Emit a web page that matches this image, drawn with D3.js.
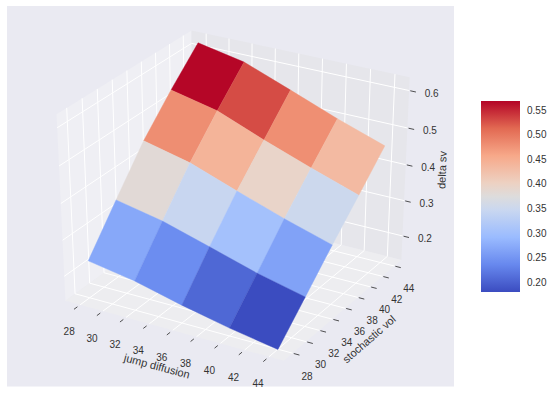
<!DOCTYPE html>
<html>
<head>
<meta charset="utf-8">
<script src="https://cdn.jsdelivr.net/npm/d3@7"></script>
<style>
  html, body { margin: 0; padding: 0; background: #fff; }
  svg { display: block; }
  text { font-family: "Liberation Sans", Arial, sans-serif; fill: #333; }
</style>
</head>
<body>
<div id="chart"></div>
<script>
// surface grid
const jumpDiffusion = [28, 32, 36, 40, 44];
const stochasticVol = [28, 32, 36, 40, 44];
// delta sv, one row per stochastic vol value
const deltaRow28 = [0.235, 0.213, 0.181, 0.153, 0.130];
const deltaRow32 = [0.347, 0.321, 0.283, 0.244, 0.213];
const deltaRow36 = [0.456, 0.426, 0.380, 0.336, 0.297];
const deltaRow40 = [0.544, 0.516, 0.466, 0.420, 0.377];
const deltaRow44 = [0.624, 0.599, 0.551, 0.502, 0.458];
const deltaSv = [deltaRow28, deltaRow32, deltaRow36, deltaRow40, deltaRow44];

const xTicks = [28, 30, 32, 34, 36, 38, 40, 42, 44];
const yTicks = [28, 30, 32, 34, 36, 38, 40, 42, 44];
const zTicks = [0.2, 0.3, 0.4, 0.5, 0.6];
const colorbarTicks = [0.20, 0.25, 0.30, 0.35, 0.40, 0.45, 0.50, 0.55];

const width = 553, height = 394;

const svg = d3.select("#chart")
  .append("svg")
  .attr("width", width)
  .attr("height", height);

svg.append("rect")
  .attr("x", 7).attr("y", 6)
  .attr("width", 447).attr("height", 380.5)
  .attr("fill", "#EAEAF2");

// data limits to the unit cube of the panes
const x = d3.scaleLinear().domain([26.7, 45.2]).range([0, 1]);
const y = d3.scaleLinear().domain([26.7, 45.2]).range([0, 1]);
const z = d3.scaleLinear().domain([0.131, 0.635]).range([0, 1]);

// projected view coordinates to pixels
const sx = d3.scaleLinear().domain([-0.1, 0.1]).range([236 - 252, 236 + 252]);
const sy = d3.scaleLinear().domain([-0.1, 0.1]).range([190 + 213, 190 - 213]);

// same camera as mplot3d with elev 30, azim -60, dist 10
const elev = 30 * Math.PI / 180, azim = -60 * Math.PI / 180, dist = 10;
const w = [Math.cos(elev) * Math.cos(azim), Math.cos(elev) * Math.sin(azim), Math.sin(elev)];
const u = [-Math.sin(azim), Math.cos(azim), 0];
const v = [w[1] * u[2] - w[2] * u[1], w[2] * u[0] - w[0] * u[2], w[0] * u[1] - w[1] * u[0]];
const dot = (a, b) => a[0] * b[0] + a[1] * b[1] + a[2] * b[2];

function depth(a, b, c) {
  return dist - dot(w, [a - 0.5, b - 0.5, c - 0.5]);
}

// a, b, c are cube coordinates
function project(a, b, c) {
  const p = [a - 0.5, b - 0.5, c - 0.5];
  const d = depth(a, b, c);
  return [sx(dot(u, p) / d), sy(dot(v, p) / d)];
}

const path = pts => "M" + pts.map(p => project(p[0], p[1], p[2]).join(",")).join("L") + "Z";

// panes
const panes = [
  { fill: "#EFEFF4", pts: [[0, 0, 0], [0, 1, 0], [0, 1, 1], [0, 0, 1]] },
  { fill: "#E6E6EB", pts: [[0, 1, 0], [1, 1, 0], [1, 1, 1], [0, 1, 1]] },
  { fill: "#EDEDF0", pts: [[0, 0, 0], [1, 0, 0], [1, 1, 0], [0, 1, 0]] }
];
svg.selectAll(".pane")
  .data(panes)
  .enter()
  .append("path")
  .attr("class", "pane")
  .attr("d", d => path(d.pts))
  .attr("fill", d => d.fill);

// grid lines
const gridLines = [];
xTicks.forEach(t => {
  gridLines.push([[x(t), 0, 0], [x(t), 1, 0], [x(t), 1, 1]]);
});
yTicks.forEach(t => {
  gridLines.push([[1, y(t), 0], [0, y(t), 0], [0, y(t), 1]]);
});
zTicks.forEach(t => {
  gridLines.push([[0, 0, z(t)], [0, 1, z(t)], [1, 1, z(t)]]);
});
svg.selectAll(".grid")
  .data(gridLines)
  .enter()
  .append("path")
  .attr("class", "grid")
  .attr("d", d => "M" + d.map(p => project(p[0], p[1], p[2]).join(",")).join("L"))
  .attr("fill", "none")
  .attr("stroke", "#fff")
  .attr("stroke-width", 1);

// tick marks
const tickMarks = [];
xTicks.forEach(t => tickMarks.push([[x(t), -0.045, 0], [x(t), -0.02, 0]]));
yTicks.forEach(t => tickMarks.push([[1.005, y(t), 0], [1.03, y(t), 0]]));
zTicks.forEach(t => tickMarks.push([[1.005, 1, z(t)], [1.03, 1, z(t)]]));
svg.selectAll(".tickmark")
  .data(tickMarks)
  .enter()
  .append("path")
  .attr("class", "tickmark")
  .attr("d", d => "M" + d.map(p => project(p[0], p[1], p[2]).join(",")).join("L"))
  .attr("stroke", "#262626")
  .attr("stroke-width", 0.8);

// colour map, coolwarm
const colorDomain = [0.18, 0.568];
const coolwarmAt = [0, 0.143, 0.286, 0.429, 0.5, 0.571, 0.714, 0.857, 1];
const coolwarm = ["#3b4cc0", "#6788ee", "#9abbff", "#c9d7f0", "#dddcdc", "#edd1c2", "#f7a889", "#e26952", "#b40426"];
// faces read slightly cooler than the bar, so their norm sits a bit higher
const colorT = d3.scaleLinear().domain([0.19, 0.572]).range([0, 1]).clamp(true);
const colormap = d3.scaleLinear().domain(coolwarmAt).range(coolwarm);
const faceColor = value => colormap(colorT(value));

// surface faces, far ones first
const faces = [];
for (let j = 0; j < stochasticVol.length - 1; j++) {
  for (let i = 0; i < jumpDiffusion.length - 1; i++) {
    const corners = [[i, j], [i + 1, j], [i + 1, j + 1], [i, j + 1]]
      .map(c => [x(jumpDiffusion[c[0]]), y(stochasticVol[c[1]]), z(deltaSv[c[1]][c[0]])]);
    const value = d3.mean([[i, j], [i + 1, j], [i + 1, j + 1], [i, j + 1]], c => deltaSv[c[1]][c[0]]);
    faces.push({
      corners: corners,
      value: value,
      order: d3.mean(corners, p => depth(p[0], p[1], p[2]))
    });
  }
}
faces.sort((a, b) => b.order - a.order);

svg.selectAll(".face")
  .data(faces)
  .enter()
  .append("path")
  .attr("class", "face")
  .attr("d", d => path(d.corners))
  .attr("fill", d => faceColor(d.value))
  .attr("stroke", d => faceColor(d.value))
  .attr("stroke-width", 0.4);

// tick labels
function tickLabels(name, ticks, pos, dx, dy, fmt) {
  svg.selectAll("." + name)
    .data(ticks)
    .enter()
    .append("text")
    .attr("class", name)
    .attr("x", d => project(...pos(d))[0] + dx)
    .attr("y", d => project(...pos(d))[1] + dy)
    .attr("text-anchor", "middle")
    .attr("dominant-baseline", "central")
    .attr("font-size", "10px")
    .text(fmt);
}
tickLabels("xlabel", xTicks, d => [x(d), 0, 0], -11, 27, d => d);
tickLabels("ylabel", yTicks, d => [1, y(d), 0], 14.5, 23, d => d);
tickLabels("zlabel", zTicks, d => [1, 1, z(d)], 22.5, 2.5, d3.format(".1f"));

// axis titles
svg.append("text")
  .attr("transform", "translate(157,366) rotate(15)")
  .attr("text-anchor", "middle")
  .attr("dominant-baseline", "central")
  .attr("font-size", "11px")
  .text("jump diffusion");

svg.append("text")
  .attr("transform", "translate(369,339) rotate(-41)")
  .attr("text-anchor", "middle")
  .attr("dominant-baseline", "central")
  .attr("font-size", "11px")
  .text("stochastic vol");

svg.append("text")
  .attr("transform", "translate(442,170) rotate(-88)")
  .attr("text-anchor", "middle")
  .attr("dominant-baseline", "central")
  .attr("font-size", "11px")
  .text("delta sv");

// colorbar
const gradient = svg.append("defs")
  .append("linearGradient")
  .attr("id", "cbar")
  .attr("x1", 0).attr("x2", 0)
  .attr("y1", 1).attr("y2", 0);
gradient.selectAll("stop")
  .data(coolwarm)
  .enter()
  .append("stop")
  .attr("offset", (d, i) => coolwarmAt[i])
  .attr("stop-color", d => d);

svg.append("rect")
  .attr("x", 481).attr("y", 101)
  .attr("width", 39).attr("height", 191)
  .attr("fill", "url(#cbar)");

const cbarScale = d3.scaleLinear().domain(colorDomain).range([292, 101]);
const cbarAxis = svg.append("g")
  .attr("transform", "translate(520,0)")
  .call(d3.axisRight(cbarScale).tickValues(colorbarTicks).tickFormat(d3.format(".2f")).tickSize(0).tickPadding(7));
cbarAxis.select(".domain").remove();
cbarAxis.selectAll("text")
  .attr("font-size", "10px")
  .attr("font-family", '"Liberation Sans", Arial, sans-serif')
  .attr("fill", "#333");
</script>
</body>
</html>
